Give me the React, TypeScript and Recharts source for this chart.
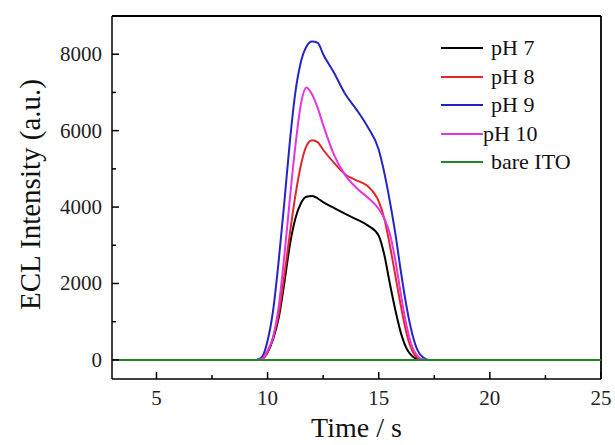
import { LineChart, Line, XAxis, YAxis, CartesianGrid } from "recharts";

const time = [3, 9, 9.5, 9.75, 10, 10.25, 10.5, 10.75, 11, 11.25, 11.5, 11.75, 12, 12.25, 12.5, 13, 13.5, 14, 14.5, 15, 15.25, 15.5, 15.75, 16, 16.25, 16.5, 16.75, 17, 17.25, 17.5, 18, 25];
const ph7 = [0, 0, 0, 30, 200, 550, 1100, 2000, 3000, 3700, 4100, 4270, 4290, 4230, 4130, 3970, 3820, 3680, 3520, 3250, 2750, 2000, 1300, 700, 300, 100, 20, 0, 0, 0, 0, 0];
const ph8 = [0, 0, 0, 20, 200, 600, 1200, 2200, 3300, 4300, 5100, 5600, 5750, 5700, 5500, 5150, 4850, 4700, 4550, 4150, 3700, 3000, 2200, 1400, 700, 250, 50, 0, 0, 0, 0, 0];
const ph9 = [0, 0, 0, 80, 500, 1300, 2600, 4100, 5700, 7000, 7800, 8200, 8330, 8300, 8000, 7500, 6950, 6550, 6100, 5500, 4900, 4150, 3300, 2300, 1400, 700, 250, 60, 0, 0, 0, 0];
const ph10 = [0, 0, 0, 30, 250, 600, 1400, 2700, 4200, 5600, 6700, 7130, 6950, 6600, 6150, 5350, 4830, 4500, 4250, 3950, 3700, 3300, 2600, 1700, 900, 350, 100, 10, 0, 0, 0, 0];
const bare = time.map(() => 0);

const xDomain = [3, 25];
const yDomain = [-500, 9000];
const xTicks = [5, 7.5, 10, 12.5, 15, 17.5, 20, 22.5, 25];
const yTicks = [0, 1000, 2000, 3000, 4000, 5000, 6000, 7000, 8000];

const series = [
  { key: "ph7", name: "pH 7", color: "#000000", values: ph7 },
  { key: "ph8", name: "pH 8", color: "#e3262b", values: ph8 },
  { key: "ph9", name: "pH 9", color: "#2424c4", values: ph9 },
  { key: "ph10", name: "pH 10", color: "#e236e2", values: ph10 },
  { key: "bare", name: "bare ITO", color: "#23862a", values: bare },
];

const data = time.map((t, i) => {
  const row: Record<string, number> = { t };
  series.forEach((s) => (row[s.key] = s.values[i]));
  return row;
});

const FONT = "'Liberation Serif', 'Times New Roman', serif";
const W = 615;
const H = 445;
const M = { top: 16, right: 14, left: 0, bottom: 0 };
const Y_W = 112;
const X_H = 66;

const XTick = (props: any) => {
  const { x, y, payload } = props;
  const major = payload.value % 5 === 0;
  return (
    <g>
      <line x1={x} y1={y} x2={x} y2={y - (major ? 7 : 4)} stroke="#000" strokeWidth={1.5} />
      {major && (
        <text x={x} y={y + 26} textAnchor="middle" fontFamily={FONT} fontSize={21} fill="#222">
          {payload.value}
        </text>
      )}
    </g>
  );
};

const YTick = (props: any) => {
  const { x, y, payload } = props;
  const major = payload.value % 2000 === 0;
  return (
    <g>
      <line x1={x} y1={y} x2={x + (major ? 7 : 4)} y2={y} stroke="#000" strokeWidth={1.5} />
      {major && (
        <text x={x - 10} y={y + 7} textAnchor="end" fontFamily={FONT} fontSize={21} fill="#222">
          {payload.value}
        </text>
      )}
    </g>
  );
};

const YTitle = (props: any) => {
  const { viewBox } = props;
  const cx = viewBox.x + 30;
  const cy = viewBox.y + viewBox.height / 2 - 3;
  return (
    <text x={cx} y={cy} transform={`rotate(-90 ${cx} ${cy})`} textAnchor="middle" dominantBaseline="central" fontFamily={FONT} fontSize={29} fill="#111">
      ECL Intensity (a.u.)
    </text>
  );
};

const XTitle = (props: any) => {
  const { viewBox } = props;
  const cx = viewBox.x + viewBox.width / 2;
  return (
    <text x={cx} y={viewBox.y + 58} textAnchor="middle" fontFamily={FONT} fontSize={28} fill="#111">
      Time / s
    </text>
  );
};

const LegendBox = () => (
  <div style={{ position: "absolute", left: 441, top: 34, fontFamily: FONT, fontSize: 22, color: "#111", lineHeight: "28.5px" }}>
    {series.map((s) => (
      <div key={s.key} style={{ display: "flex", alignItems: "center", height: 28.5 }}>
        <svg width={s.key === "ph10" ? 42 : 50} height={4}>
          <line x1={0} y1={2} x2={42} y2={2} stroke={s.color} strokeWidth={2} />
        </svg>
        <span>{s.name}</span>
      </div>
    ))}
  </div>
);

export default function App() {
  return (
    <div style={{ position: "absolute", left: 0, top: 0, width: W, height: H, background: "#fff" }}>
      <LineChart width={W} height={H} data={data} margin={M}>
        <CartesianGrid
          horizontalValues={[yDomain[1]]}
          verticalValues={[xDomain[1]]}
          stroke="#000"
          strokeWidth={1.8}
          strokeOpacity={1}
        />
        <XAxis
          dataKey="t"
          type="number"
          domain={xDomain}
          ticks={xTicks}
          tick={<XTick />}
          tickLine={false}
          tickSize={0}
          tickMargin={0}
          height={X_H}
          axisLine={{ stroke: "#000", strokeWidth: 1.5 }}
          allowDataOverflow
          label={<XTitle />}
        />
        <YAxis
          type="number"
          domain={yDomain}
          ticks={yTicks}
          tick={<YTick />}
          tickLine={false}
          tickSize={0}
          tickMargin={0}
          width={Y_W}
          axisLine={{ stroke: "#000", strokeWidth: 1.5 }}
          allowDataOverflow
          label={<YTitle />}
        />
        {series.map((s) => (
          <Line
            key={s.key}
            dataKey={s.key}
            name={s.name}
            type="monotone"
            stroke={s.color}
            strokeWidth={2}
            dot={false}
            isAnimationActive={false}
          />
        ))}
      </LineChart>
      <LegendBox />
    </div>
  );
}
